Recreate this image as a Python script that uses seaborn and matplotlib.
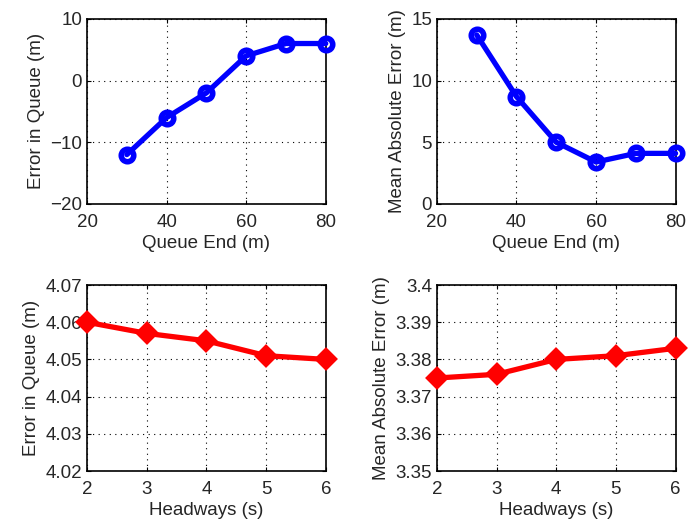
import numpy as np
import pandas as pd
import seaborn as sns
import matplotlib.pyplot as plt

queue_end = [30, 40, 50, 60, 70, 80]
queue_err = [-12, -6, -2, 4, 6, 6]
queue_mae = [13.7, 8.7, 5.0, 3.4, 4.1, 4.1]
headways = [2, 3, 4, 5, 6]
head_err = [4.060, 4.057, 4.055, 4.051, 4.050]
head_mae = [3.375, 3.376, 3.380, 3.381, 3.383]

sns.set_style('white')
plt.rcParams['font.family'] = ['Liberation Sans', 'DejaVu Sans']
plt.rcParams['font.size'] = 13.5

fig = plt.figure(figsize=(6.88, 5.23), dpi=100)
w, h = 0.347, 0.354
axes = [fig.add_axes([0.1265, 0.610, w, h]),
        fig.add_axes([0.635, 0.610, w, h]),
        fig.add_axes([0.1265, 0.0994, w, 0.3556]),
        fig.add_axes([0.635, 0.0994, w, 0.3556])]

panels = [
    (queue_end, queue_err, 'blue', 'o', 'Queue End (m)', 'Error in Queue (m)', (20, 80), [20, 40, 60, 80], (-20, 10), [-20, -10, 0, 10], '%g'),
    (queue_end, queue_mae, 'blue', 'o', 'Queue End (m)', 'Mean Absolute Error (m)', (20, 80), [20, 40, 60, 80], (0, 15), [0, 5, 10, 15], '%g'),
    (headways, head_err, 'red', 'D', 'Headways (s)', 'Error in Queue (m)', (2, 6), [2, 3, 4, 5, 6], (4.02, 4.07), [4.02, 4.03, 4.04, 4.05, 4.06, 4.07], '%.2f'),
    (headways, head_mae, 'red', 'D', 'Headways (s)', 'Mean Absolute Error (m)', (2, 6), [2, 3, 4, 5, 6], (3.35, 3.4), [3.35, 3.36, 3.37, 3.38, 3.39, 3.4], None),
]

for ax, (x, y, c, m, xl, yl, xlim, xt, ylim, yt, fmt) in zip(axes, panels):
    df = pd.DataFrame({'x': x, 'y': y})
    if m == 'o':
        mk = dict(markersize=9, markeredgewidth=4, markerfacecolor='none')
    else:
        mk = dict(markersize=9.5, markeredgewidth=3, markerfacecolor=c)
    sns.lineplot(data=df, x='x', y='y', ax=ax, color=c, lw=3.8, marker=m,
                 markeredgecolor=c, clip_on=False, zorder=5, **mk)
    ax.set_xlim(xlim)
    ax.set_ylim(ylim)
    ax.set_xticks(xt)
    ax.set_yticks(yt)
    if fmt:
        ax.set_yticklabels([(fmt % v).replace('-', '\u2212') for v in yt])
    else:
        ax.set_yticklabels(['3.35', '3.36', '3.37', '3.38', '3.39', '3.4'])
    ax.set_xlabel(xl, labelpad=3)
    ax.set_ylabel(yl, labelpad=4)
    ax.grid(True, color='black', linestyle=(0, (1, 4)), linewidth=0.8)
    ax.tick_params(axis='x', pad=7)
    ax.tick_params(direction='in', length=3, color='black', labelsize=13.5,
                   top=True, right=True, bottom=True, left=True)
    for s in ax.spines.values():
        s.set_color('black')
        s.set_linewidth(1.2)

fig.savefig('out.png', dpi=100)
